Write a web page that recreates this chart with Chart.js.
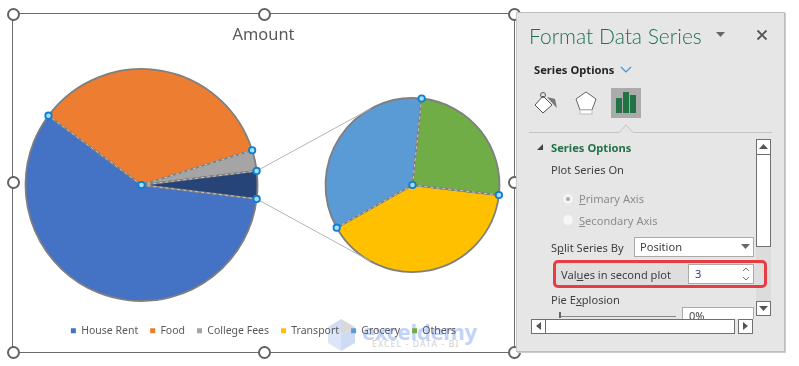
<!DOCTYPE html>
<html><head><meta charset="utf-8">
<script src="https://cdn.jsdelivr.net/npm/chart.js@4"></script>
<style>
html,body{margin:0;padding:0;background:#fff;width:799px;height:366px;overflow:hidden;font-family:"Noto Sans",sans-serif}
#frame{position:absolute;left:12px;top:12.5px;width:500.5px;height:338.5px;border:1.5px solid #6b6b6b;box-sizing:content-box}
canvas{position:absolute}
#wrapA,#wrapB{position:absolute;left:13px;top:13px;width:501px;height:339px}
.h{position:absolute;width:9px;height:9px;border:2px solid #636363;border-radius:50%;background:#fff;z-index:5}
#panel{position:absolute;left:516px;top:12px;width:269px;height:340px;background:#e6e6e6;border:1px solid #bdbdbd;border-left:1px solid #c8c8c8;box-sizing:border-box;z-index:6;box-shadow:1px 1px 0 #ccc;overflow:hidden}
#root{position:absolute;left:0;top:0;width:799px;height:366px;z-index:7;pointer-events:none}
.t{position:absolute;white-space:nowrap;font-size:11.1px;color:#404040;line-height:16px}
.box{position:absolute;background:#fff;border:1px solid #aaa;box-sizing:border-box}
.btn{position:absolute;background:#fff;border:1px solid #6f6f6f;box-sizing:border-box}
.wm{position:absolute;white-space:nowrap;pointer-events:none}
</style></head><body>
<div id="frame"></div>
<svg class="wm" style="left:327px;top:318px" width="30" height="34" viewBox="0 0 30 34">
<polygon points="14,1 1,9 14,17" fill="#c5d4f5" opacity=".8"/><polygon points="14,1 28,9 14,17" fill="#cfcfcf" opacity=".8"/>
<polygon points="1,9 14,17 14,33 1,25" fill="#d4e0f8" opacity=".8"/><polygon points="28,9 14,17 14,33 28,25" fill="#c3d2f2" opacity=".8"/></svg>
<div class="wm" style="left:362px;top:313px;font:bold 22px/36px 'Noto Sans';color:#c3d3f8;letter-spacing:-.25px">exceldemy</div>
<div class="wm" style="left:372px;top:338px;font:8.5px/12px 'Noto Sans';color:#cfcfcf;letter-spacing:1.2px">EXCEL - DATA - BI</div>
<div id="wrapB"><canvas id="chartB" width="501" height="339"></canvas></div>
<div id="wrapA"><canvas id="chartA" width="501" height="339"></canvas></div>
<div class="h" style="left:7px;top:7.5px"></div><div class="h" style="left:257.5px;top:7.5px"></div><div class="h" style="left:508px;top:7.5px"></div>
<div class="h" style="left:7px;top:176px"></div><div class="h" style="left:508px;top:176px"></div>
<div class="h" style="left:7px;top:346px"></div><div class="h" style="left:257.5px;top:346px"></div><div class="h" style="left:508px;top:346px"></div>

<div id="panel"></div>
<div id="root">
 <div class="t" style="left:529px;top:21px;font:300 21px/30px Lato,'Noto Sans';color:#1f6f57">Format Data Series</div>
 <svg style="position:absolute;left:715px;top:31px" width="12" height="8"><polygon points="1,1 10,1 5.5,6" fill="#666"/></svg>
 <svg style="position:absolute;left:756px;top:29px" width="12" height="12"><path d="M1.5 1.5L10.5 10.5M10.5 1.5L1.5 10.5" stroke="#555" stroke-width="1.8"/></svg>
 <div class="t" style="left:534px;top:62px;font-weight:700;color:#262626;font-size:11.2px">Series Options</div>
 <svg style="position:absolute;left:620px;top:66px" width="12" height="8"><path d="M1 1L6 6L11 1" fill="none" stroke="#3c94d6" stroke-width="1.2"/></svg>
 <svg style="position:absolute;left:533px;top:90px" width="26" height="24"><polygon points="10,6 19,15 10,23 2,15" fill="#fff" stroke="#555"/><circle cx="10" cy="5" r="2.5" fill="none" stroke="#555"/><path d="M14 7L22 9L24 18L21 15Z" fill="#777"/></svg>
 <svg style="position:absolute;left:574px;top:90px" width="24" height="26"><polygon points="12,2 22,9 18,20 6,20 2,9" fill="#fff" stroke="#666"/><rect x="6" y="20" width="12" height="4" fill="#fff" stroke="#bbb"/></svg>
 <div style="position:absolute;left:611px;top:88px;width:30px;height:30px;background:#ababab"></div>
 <div style="position:absolute;left:616px;top:98px;width:6px;height:15px;background:#217346"></div>
 <div style="position:absolute;left:623px;top:92px;width:6px;height:21px;background:#217346"></div>
 <div style="position:absolute;left:630px;top:95px;width:6px;height:18px;background:#217346"></div>
 <svg style="position:absolute;left:529px;top:123px" width="244" height="11"><path d="M0 9.5H90L97 2L104 9.5H243" fill="none" stroke="#c4c4c4"/></svg>
 <svg style="position:absolute;left:536px;top:143px" width="9" height="9"><polygon points="7,1 7,7 1,7" fill="#444"/></svg>
 <div class="t" style="left:551px;top:140px;font-weight:700;color:#217346;font-size:11.2px">Series Options</div>
 <div class="t" style="left:551px;top:162px">Plot Series On</div>
 <div class="btn" style="left:756px;top:139px;width:15px;height:16px"></div>
 <svg style="position:absolute;left:758px;top:143px" width="11" height="7"><polygon points="1,6 10,6 5.5,1" fill="#555"/></svg>
 <div class="btn" style="left:756px;top:154px;width:15px;height:93px"></div>
 <div style="position:absolute;left:756px;top:247px;width:15px;height:54px;background:#dcdcdc"></div>
 <div class="btn" style="left:756px;top:301px;width:15px;height:15px"></div>
 <svg style="position:absolute;left:758px;top:305px" width="11" height="7"><polygon points="1,1 10,1 5.5,6" fill="#555"/></svg>
 <div style="position:absolute;left:563px;top:194px;width:10px;height:10px;border-radius:50%;background:#f4f4f4"></div>
 <div style="position:absolute;left:566px;top:197px;width:4px;height:4px;border-radius:50%;background:#a8a8a8"></div>
 <div class="t" style="left:579px;top:191px;color:#8c8c8c"><u>P</u>rimary Axis</div>
 <div style="position:absolute;left:563px;top:215px;width:10px;height:10px;border-radius:50%;background:#f6f6f6"></div>
 <div class="t" style="left:579px;top:213px;color:#8c8c8c"><u>S</u>econdary Axis</div>
 <div class="t" style="left:551px;top:240px">S<u>p</u>lit Series By</div>
 <div class="box" style="left:634px;top:237px;width:120px;height:20px"></div>
 <div class="t" style="left:640px;top:239px">Position</div>
 <svg style="position:absolute;left:741px;top:244px" width="10" height="6"><polygon points="0,0 9,0 4.5,5" fill="#666"/></svg>
 <div style="position:absolute;left:553px;top:260px;width:214px;height:28px;background:#dedede;border:3px solid #e93c42;border-radius:5px;box-sizing:border-box"></div>
 <div class="t" style="left:561px;top:267px">Val<u>u</u>es in second plot</div>
 <div class="box" style="left:688px;top:264px;width:66px;height:20px"></div>
 <div class="t" style="left:695px;top:266px;color:#3a3a8a">3</div>
 <svg style="position:absolute;left:741px;top:266px" width="10" height="16"><path d="M2 5L5 2L8 5M2 11L5 14L8 11" fill="none" stroke="#777"/></svg>
 <div class="t" style="left:551px;top:292px">Pie E<u>x</u>plosion</div>
 <div style="position:absolute;left:560px;top:316px;width:116px;height:1px;background:#888"></div>
 <div style="position:absolute;left:559px;top:312px;width:2px;height:6px;background:#666"></div>
 <div style="position:absolute;left:682px;top:307px;width:72px;height:12px;overflow:hidden;background:#fff;border:1px solid #aaa;border-bottom:0;box-sizing:border-box"><span style="position:absolute;left:6px;top:1px;font-size:11px;line-height:14px;color:#444">0%</span></div>
 <div class="btn" style="left:531px;top:319px;width:15px;height:15px"></div>
 <svg style="position:absolute;left:535px;top:322px" width="7" height="9"><polygon points="6,0 6,8 1,4" fill="#555"/></svg>
 <div class="btn" style="left:545px;top:319px;width:190px;height:15px"></div>
 <div class="btn" style="left:738px;top:319px;width:15px;height:15px"></div>
 <svg style="position:absolute;left:742px;top:322px" width="7" height="9"><polygon points="1,0 1,8 6,4" fill="#555"/></svg>
</div>

<script>
// ---- data ----
const titleText = 'Amount';
const categories = ['House Rent','Food','College Fees','Transport','Grocery','Others'];
const amounts = [5000,3000,250,132,115,83];
const firstPlotCount = 3;
const firstPlotOtherLabel = 'Other';
const colors = ['#4472C4','#ED7D31','#A5A5A5','#FFC000','#5B9BD5','#70AD47'];
const otherColor = '#264478';

// ---- derived series ----
const secondValues = amounts.slice(firstPlotCount);
const otherSum = secondValues.reduce((a,b)=>a+b,0);
const firstValues = amounts.slice(0,firstPlotCount).concat([otherSum]);
const firstLabels = categories.slice(0,firstPlotCount).concat([firstPlotOtherLabel]);
const firstColors = colors.slice(0,firstPlotCount).concat([otherColor]);
const secondLabels = categories.slice(firstPlotCount);
const secondColors = colors.slice(firstPlotCount);

// ---- layout ----
const pieA = {cx:128.5, cy:172, r:116, rotation:96.9};
const pieB = {cx:399.5, cy:172, r:87, rotation:96.6};
const outline = '#7f7f7f';

function placeArea(p){ return {id:'placeArea', afterLayout(chart){
  chart.chartArea = {left:p.cx-p.r, right:p.cx+p.r, top:p.cy-p.r, bottom:p.cy+p.r, width:2*p.r, height:2*p.r};
}}; }
const polar=(a,ang,r)=>({x:a.x+Math.cos(ang)*r,y:a.y+Math.sin(ang)*r});
function sliceMarks(){ return {id:'sliceMarks', afterDatasetsDraw(chart){
  const c=chart.ctx, arcs=chart.getDatasetMeta(0).data;
  c.save();
  // dashed white selection highlight on the slice edges
  c.strokeStyle='rgba(255,255,255,.7)'; c.lineWidth=.8; c.setLineDash([3,3]);
  arcs.forEach(a=>{ const e=polar(a,a.startAngle,a.outerRadius);
    c.beginPath(); c.moveTo(a.x,a.y); c.lineTo(e.x,e.y); c.stroke(); });
  c.setLineDash([]);
  // selection dots
  const dot=(x,y)=>{ c.beginPath(); c.arc(x,y,3.2,0,Math.PI*2); c.fillStyle='#a9dcfb'; c.fill(); c.lineWidth=1.8; c.strokeStyle='#0b7fd1'; c.stroke(); };
  arcs.forEach(a=>{ const e=polar(a,a.startAngle,a.outerRadius); dot(e.x,e.y); });
  dot(arcs[0].x,arcs[0].y);
  c.restore();
}}; }

const baseOpts = (p)=>({
  responsive:false, animation:false, radius:p.r, rotation:p.rotation,
  events:[],
  plugins:{tooltip:{enabled:false},legend:{display:false},title:{display:false}}
});

const chartB = new Chart(document.getElementById('chartB'),{
  type:'pie',
  data:{labels:secondLabels,datasets:[{data:secondValues,backgroundColor:secondColors,borderColor:outline,borderWidth:1.8,clip:false}]},
  options:baseOpts(pieB),
  plugins:[placeArea(pieB),sliceMarks()]
});

// series lines: tangents from the "Other" slice's outer corners to the second pie
const seriesLines = {id:'seriesLines', afterDatasetsDraw(chart){
  const c=chart.ctx, arcs=chart.getDatasetMeta(0).data, o=arcs[firstPlotCount];
  const b=chartB.getDatasetMeta(0).data[0], R=b.outerRadius;
  const ends=[[o.startAngle,-1],[o.endAngle,1]];
  c.save(); c.strokeStyle='#b4b4b4'; c.lineWidth=1;
  ends.forEach(([ang,side])=>{
    const s=polar(o,ang,o.outerRadius), dx=b.x-s.x, dy=b.y-s.y, d=Math.hypot(dx,dy);
    const t=Math.sqrt(d*d-R*R), th=Math.atan2(dy,dx)+side*Math.asin(R/d);
    c.beginPath(); c.moveTo(s.x,s.y); c.lineTo(s.x+Math.cos(th)*t,s.y+Math.sin(th)*t); c.stroke();
  });
  c.restore();
}};

const optsA = baseOpts(pieA);
optsA.layout = {padding:{bottom:6}};
optsA.plugins.title = {display:true,text:titleText,color:'#595959',font:{family:'"Noto Sans"',size:16.4,weight:'normal'},padding:{top:12,bottom:4}};
optsA.plugins.legend = {display:true,position:'bottom',
  labels:{boxWidth:5,boxHeight:5,padding:12,color:'#595959',font:{family:'"Noto Sans"',size:10.5},
    generateLabels(){ return categories.map((t,i)=>({text:t,fillStyle:colors[i],strokeStyle:colors[i],lineWidth:0,fontColor:'#595959',index:i})); }}};
new Chart(document.getElementById('chartA'),{
  type:'pie',
  data:{labels:firstLabels,datasets:[{data:firstValues,backgroundColor:firstColors,borderColor:outline,borderWidth:1.8,clip:false}]},
  options:optsA,
  plugins:[placeArea(pieA),seriesLines,sliceMarks()]
});
</script>
</body></html>
